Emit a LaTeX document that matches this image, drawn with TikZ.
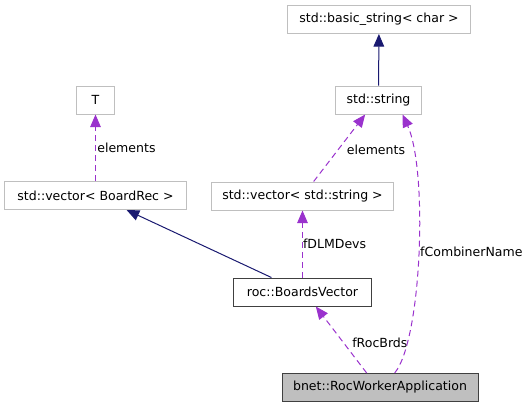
\documentclass[tikz,border=0pt]{standalone}
\usepackage{fontspec}
\setmainfont{DejaVu Sans}
\usetikzlibrary{arrows.meta,positioning,quotes}
\definecolor{inhblue}{HTML}{191970}
\definecolor{usepurple}{HTML}{9A32CD}
\definecolor{boxgray}{HTML}{BFBFBF}

\begin{document}
\begin{tikzpicture}[
    x=0.75pt, y=-0.75pt,
    font=\fontsize{9.4}{11}\selectfont,
    cls/.style={draw=boxgray, fill=white, line width=0.75pt, inner sep=0pt,
                minimum height=21pt},
    clsdoc/.style={cls, draw=black!75},
    clsroot/.style={cls, draw=black!75, fill=boxgray},
    inh/.style={color=inhblue, line width=0.75pt,
                -{Triangle[length=9.5pt, width=8pt]}},
    use/.style={color=usepurple, line width=0.75pt, dash pattern=on 4.5pt off 3pt,
                -{Triangle[length=9.5pt, width=8pt]}},
    lbl/.style={anchor=west, inner sep=0pt, text=black},
    ]
\useasboundingbox (0,0) rectangle (532,408);

% classes
\node[cls, minimum width=137pt] (bstr) at (379,19.5) {std::basic\_string< char >};
\node[cls, minimum width=65pt] (str) at (378.5,100) {std::string};
\node[cls, minimum width=29pt] (T) at (95.5,100) {T};
\node[cls, minimum width=136pt] (vbr) at (95.5,195.5) {std::vector< BoardRec >};
\node[cls, minimum width=137pt] (vstr) at (302.5,196) {std::vector< std::string >};
\node[clsdoc, minimum width=103pt] (bv) at (302.5,292) {roc::BoardsVector};
\node[clsroot, minimum width=147pt] (app) at (380,387.5) {bnet::RocWorkerApplication};

% inheritance
\draw[inh] (str) -- (bstr);
\draw[inh] (bv) -- (vbr);

% usage
\draw[use] (vbr) -- (T) node[lbl, pos=.5, xshift=1pt] {elements};
\draw[use] (vstr) -- ([xshift=-10pt]str.south) node[lbl, pos=.48, xshift=6pt] {elements};
\draw[use] (bv) -- (vstr) node[lbl, pos=.5] {fDLMDevs};
\draw[use] ([xshift=-10pt]app.north) -- ([xshift=10pt]bv.south) node[lbl, pos=.45, xshift=6pt] {fRocBrds};
\draw[use] ([xshift=11pt]app.north) .. controls (422,340) and (428,170) .. ([xshift=18pt]str.south)
    node[lbl, pos=.5, xshift=1pt] {fCombinerName};
\end{tikzpicture}
\end{document}
